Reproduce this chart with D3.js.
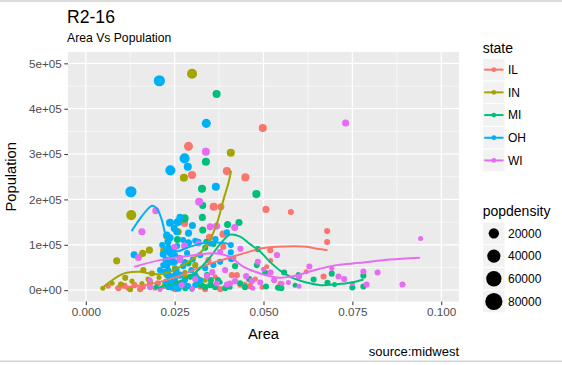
<!DOCTYPE html>
<html>
<head>
<meta charset="utf-8">
<script src="https://cdn.jsdelivr.net/npm/d3@7"></script>
<style>
  body { margin: 0; background: #fff; }
  text { font-family: 'Liberation Sans', Arial, sans-serif; }
</style>
</head>
<body>
<div id="chart"></div>
<script>
const states = ['IL', 'IN', 'MI', 'OH', 'WI']
const stateColors = ['#F8766D', '#A3A500', '#00BF7D', '#00B0F6', '#E76BF3']

const xTicks = [0, 0.025, 0.05, 0.075, 0.1]
const xTickLabels = ['0.000', '0.025', '0.050', '0.075', '0.100']
const yTicks = [0, 100000, 200000, 300000, 400000, 500000]
const yTickLabels = ['0e+00', '1e+05', '2e+05', '3e+05', '4e+05', '5e+05']
const densityBreaks = [20000, 40000, 60000, 80000]

// [area, poptotal, popdensity]
const pointsIL = [
  [0.0289, 317000, 13000], [0.0299, 253700, 8900], [0.0397, 262500, 8900], [0.0449, 248600, 8900],
  [0.0360, 183800, 8900], [0.0380, 183800, 5400], [0.0278, 147100, 5400], [0.0348, 116300, 5400],
  [0.0386, 123500, 5400], [0.0345, 66200, 2800], [0.0387, 95500, 2800], [0.0415, 69900, 2800],
  [0.0498, 357400, 8900], [0.0507, 178000, 5400], [0.0577, 172100, 2800], [0.0679, 130200, 2800],
  [0.0679, 105900, 2800], [0.0519, 88200, 2800], [0.0520, 65500, 1000], [0.0620, 40400, 1000],
  [0.0669, 30200, 2800], [0.0092, 4400, 2800], [0.0109, 9500, 2800], [0.0137, 11000, 2800],
  [0.0162, 7300, 1000], [0.0181, 11000, 1000], [0.0218, 7300, 1000], [0.0284, 11000, 1000],
  [0.0364, 29300, 1000], [0.0359, 11000, 1000], [0.0411, 33100, 2800], [0.0425, 33100, 2800],
  [0.0509, 51400, 1000], [0.0063, 8800, 1000], [0.0119, 4400, 1000], [0.0195, 4400, 1000],
  [0.0237, 6600, 1000], [0.0322, 6600, 1000], [0.0448, 13200, 1000], [0.0477, 24300, 1000],
  [0.0547, 15400, 1000], [0.0314, 28700, 1000], [0.0434, 11000, 1000], [0.0153, 2200, 2800],
  [0.0203, 15400, 2800], [0.0251, 2200, 2800], [0.0336, 2200, 2800], [0.0378, 2200, 2800],
  [0.0496, 6600, 1000], [0.0462, 8800, 2800]
]
const pointsIN = [
  [0.0299, 477100, 18500], [0.0408, 302900, 8900], [0.0276, 247700, 8900], [0.0128, 165500, 18500],
  [0.0268, 156600, 8900], [0.0260, 128600, 5400], [0.0228, 119100, 5400], [0.0087, 64600, 5400],
  [0.0160, 81000, 5400], [0.0179, 88200, 5400], [0.0218, 88200, 2800], [0.0048, 4400, 1000],
  [0.0111, 27100, 2800], [0.0099, 12600, 2800], [0.0162, 44100, 2800], [0.0186, 36800, 2800],
  [0.0158, 14800, 1000], [0.0206, 28000, 1000], [0.0228, 33100, 2800], [0.0074, 15400, 1000],
  [0.0130, 19900, 1000], [0.0175, 24300, 1000], [0.0251, 48500, 2800], [0.0279, 39700, 1000],
  [0.0308, 55100, 2800], [0.0336, 22100, 1000], [0.0125, 2200, 2800], [0.0181, 17600, 2800],
  [0.0223, 11000, 2800], [0.0280, 28700, 2800]
]
const pointsMI = [
  [0.0368, 432400, 8900], [0.0480, 211800, 8900], [0.0327, 223500, 8900], [0.0338, 283000, 8900],
  [0.0329, 186800, 5400], [0.0278, 158200, 8900], [0.0329, 132400, 5400], [0.0399, 144900, 5400],
  [0.0431, 149300, 5400], [0.0258, 111800, 5400], [0.0339, 106500, 2800], [0.0359, 101500, 2800],
  [0.0289, 58900, 2800], [0.0481, 55200, 2800], [0.0328, 160400, 5400], [0.0336, 93300, 2800],
  [0.0420, 52900, 2800], [0.0460, 24300, 2800], [0.0352, 22100, 2800], [0.0312, 25800, 2800],
  [0.0326, 11000, 2800], [0.0251, 22100, 2800], [0.0294, 29300, 2800], [0.0484, 90400, 2800],
  [0.0505, 38200, 2800], [0.0558, 39000, 2800], [0.0598, 34600, 1000], [0.0641, 23600, 2800],
  [0.0680, 16500, 2800], [0.0700, 12600, 1000], [0.0692, 36400, 2800], [0.0750, 6000, 2800],
  [0.0781, 32000, 2800], [0.0781, 8200, 2800], [0.0541, 5500, 2800], [0.0550, 4400, 2800],
  [0.0507, 8200, 2800], [0.0589, 11000, 1000], [0.0198, 7300, 1000], [0.0265, 11000, 1000],
  [0.0378, 17600, 1000], [0.0406, 6600, 1000], [0.0299, 2200, 1000], [0.0316, 13200, 2800],
  [0.0336, 6600, 2800], [0.0350, 11000, 2800], [0.0364, 6600, 2800], [0.0372, 22100, 2800],
  [0.0341, 33100, 2800], [0.0392, 4400, 2800], [0.0434, 15400, 2800], [0.0448, 6600, 2800],
  [0.0280, 4400, 2800]
]
const pointsOH = [
  [0.0207, 461700, 25000], [0.0339, 367700, 13000], [0.0278, 290500, 18500], [0.0287, 272000, 8900],
  [0.0238, 264100, 18500], [0.0366, 227900, 8900], [0.0127, 216800, 25000], [0.0237, 148500, 8900],
  [0.0259, 150000, 8900], [0.0300, 142700, 5400], [0.0289, 125700, 5400], [0.0249, 136100, 5400],
  [0.0237, 115400, 5400], [0.0289, 104300, 5400], [0.0308, 108800, 2800], [0.0365, 112500, 2800],
  [0.0408, 99300, 2800], [0.0136, 77900, 5400], [0.0218, 79400, 5400], [0.0237, 82300, 5400],
  [0.0226, 66200, 5400], [0.0301, 67700, 2800], [0.0408, 83200, 2800], [0.0265, 160400, 5400],
  [0.0256, 128600, 5400], [0.0397, 127300, 2800], [0.0317, 106500, 2800], [0.0350, 103000, 2800],
  [0.0409, 68400, 2800], [0.0378, 62400, 2800], [0.0359, 55200, 2800], [0.0232, 33100, 5400],
  [0.0228, 55200, 5400], [0.0242, 17000, 5400], [0.0243, 61800, 5400], [0.0231, 106500, 5400],
  [0.0228, 121300, 5400], [0.0265, 33100, 5400], [0.0247, 18300, 2800], [0.0232, 44100, 2800],
  [0.0251, 61800, 2800], [0.0260, 11000, 5400], [0.0279, 22100, 2800], [0.0232, 6600, 2800],
  [0.0274, 52900, 2800], [0.0251, 77200, 2800], [0.0209, 44100, 2800], [0.0308, 33100, 2800],
  [0.0336, 48500, 2800], [0.0322, 77200, 2800], [0.0285, 81600, 2800], [0.0218, 55200, 2800],
  [0.0257, 97100, 2800], [0.0274, 110300, 2800], [0.0232, 92700, 5400], [0.0243, 75000, 5400],
  [0.0223, 39700, 5400], [0.0237, 26500, 5400], [0.0254, 44100, 5400], [0.0265, 70600, 2800],
  [0.0279, 61800, 2800], [0.0297, 44100, 2800], [0.0260, 4400, 5400], [0.0243, 6600, 5400],
  [0.0271, 15400, 5400], [0.0288, 8800, 2800], [0.0226, 17600, 5400], [0.0249, 30900, 5400],
  [0.0308, 11000, 2800], [0.0322, 22100, 2800], [0.0229, 88200, 5400], [0.0215, 99300, 2800]
]
const pointsWI = [
  [0.0338, 305100, 8900], [0.0731, 368400, 5400], [0.0319, 194800, 8900], [0.0368, 141200, 5400],
  [0.0419, 138300, 5400], [0.0197, 174900, 5400], [0.0158, 128600, 5400], [0.0317, 103000, 2800],
  [0.0435, 91100, 2800], [0.0148, 72100, 5400], [0.0249, 94200, 5400], [0.0278, 97100, 5400],
  [0.0265, 66200, 2800], [0.0378, 84500, 2800], [0.0484, 62400, 2800], [0.0942, 114000, 1000],
  [0.0538, 77200, 2800], [0.0629, 52300, 2800], [0.0692, 47900, 1000], [0.0711, 30200, 2800],
  [0.0727, 24300, 2800], [0.0750, 14800, 1000], [0.0781, 41300, 2800], [0.0790, 12600, 2800],
  [0.0821, 39000, 2800], [0.0891, 12600, 2800], [0.0600, 29300, 2800], [0.0600, 8800, 1000],
  [0.0570, 17000, 1000], [0.0552, 14800, 1000], [0.0470, 4400, 1000], [0.0500, 46300, 1000],
  [0.0520, 39000, 2800], [0.0530, 22100, 2800], [0.0491, 17000, 2800], [0.0467, 19900, 2800],
  [0.0406, 14800, 2800], [0.0397, 12600, 2800], [0.0341, 30900, 2800], [0.0369, 14800, 2800],
  [0.0300, 3700, 1000], [0.0270, 11000, 2800], [0.0209, 1500, 1000], [0.0350, 139600, 5400],
  [0.0181, 22100, 1000], [0.0181, 6600, 2800], [0.0308, 24300, 2800], [0.0356, 39700, 2800],
  [0.0392, 44100, 2800], [0.0451, 30900, 2800], [0.0420, 19900, 2800]
]

// loess curves per state as [area, poptotal]
const smoothIL = [
  [0.00825, 5100], [0.0162, 11000], [0.0209, 18300], [0.0256, 29300], [0.0303, 44100],
  [0.0350, 58900], [0.0397, 69900], [0.0444, 81000], [0.0491, 91500], [0.0538, 95500],
  [0.0622, 95500], [0.0650, 91100], [0.0680, 88200]
]
const smoothIN = [
  [0.0045, 3700], [0.0068, 18300], [0.0097, 33100], [0.0115, 38200], [0.0153, 40400],
  [0.0181, 36800], [0.0209, 35300], [0.0237, 40400], [0.0265, 51400], [0.0303, 69900],
  [0.0341, 99300], [0.0369, 147100], [0.0387, 198500], [0.0401, 235400], [0.0409, 263200]
]
const smoothMI = [
  [0.0198, 4400], [0.0251, 15400], [0.0294, 30900], [0.0322, 48500], [0.0350, 72800],
  [0.0378, 101500], [0.0406, 122400], [0.0434, 118000], [0.0462, 101500], [0.0491, 84900],
  [0.0519, 61800], [0.0547, 43000], [0.0583, 26500], [0.0623, 16500], [0.0660, 11000],
  [0.0707, 13200], [0.0744, 16500], [0.0781, 23600]
]
const smoothOH = [
  [0.0129, 130200], [0.0153, 158200], [0.0172, 176500], [0.0186, 186000], [0.0200, 180200],
  [0.0214, 154400], [0.0223, 125700], [0.0232, 101500], [0.0243, 88200], [0.0260, 86000],
  [0.0279, 91500], [0.0308, 99300], [0.0350, 104800], [0.0392, 103700], [0.0412, 99300]
]
const smoothWI = [
  [0.0136, 51400], [0.0209, 66200], [0.0303, 77200], [0.0369, 81000], [0.0406, 73500],
  [0.0444, 51400], [0.0491, 36800], [0.0538, 28000], [0.0575, 29300], [0.0612, 36800],
  [0.0650, 45700], [0.0706, 55200], [0.0772, 60200], [0.0856, 67700], [0.0940, 71700]
]

const pointsByState = [pointsIL, pointsIN, pointsMI, pointsOH, pointsWI]
const smoothByState = [smoothIL, smoothIN, smoothMI, smoothOH, smoothWI]

const margin = { top: 52, left: 68, right: 103, bottom: 63.5 }
const width = 562 - margin.left - margin.right
const height = 365 - margin.top - margin.bottom

const root = d3
  .select('#chart')
  .append('svg')
  .attr('width', 562)
  .attr('height', 365)

// screenshot frame lines
root.append('rect').attr('x', 0).attr('y', 0).attr('width', 562).attr('height', 2).attr('fill', '#dcdcdc')
root.append('rect').attr('x', 0).attr('y', 360.5).attr('width', 562).attr('height', 1.5).attr('fill', '#d4d4d4')

const svg = root.append('g')
  .attr('transform', 'translate(' + margin.left + ',' + margin.top + ')')

const x = d3.scaleLinear().domain([-0.005, 0.105]).range([0, width])
const y = d3.scaleLinear().domain([-25000, 525000]).range([height, 0])
const color = d3.scaleOrdinal().domain(states).range(stateColors)
// ggplot style area scale: diameter grows with sqrt of rescaled density
const densNorm = d3.scaleLinear().domain([85, 88018]).clamp(true)
const diam = d3.scaleLinear().domain([0, 1]).range([3.6, 17.8])
const radius = d => diam(Math.sqrt(densNorm(d))) / 2

svg.append('rect')
  .attr('width', width)
  .attr('height', height)
  .attr('fill', '#EBEBEB')

svg.append('clipPath').attr('id', 'panel')
  .append('rect').attr('width', width).attr('height', height)

// minor grid
const xMinor = xTicks.slice(0, -1).map((d, i) => (d + xTicks[i + 1]) / 2)
const yMinor = yTicks.slice(0, -1).map((d, i) => (d + yTicks[i + 1]) / 2)
svg.selectAll('.xminor').data(xMinor).enter().append('line')
  .attr('x1', d => x(d)).attr('x2', d => x(d)).attr('y1', 0).attr('y2', height)
  .attr('stroke', '#fff').attr('stroke-width', 0.6)
svg.selectAll('.yminor').data(yMinor).enter().append('line')
  .attr('y1', d => y(d)).attr('y2', d => y(d)).attr('x1', 0).attr('x2', width)
  .attr('stroke', '#fff').attr('stroke-width', 0.6)
// major grid
svg.selectAll('.xmajor').data(xTicks).enter().append('line')
  .attr('x1', d => x(d)).attr('x2', d => x(d)).attr('y1', 0).attr('y2', height)
  .attr('stroke', '#fff').attr('stroke-width', 1.2)
svg.selectAll('.ymajor').data(yTicks).enter().append('line')
  .attr('y1', d => y(d)).attr('y2', d => y(d)).attr('x1', 0).attr('x2', width)
  .attr('stroke', '#fff').attr('stroke-width', 1.2)

const plot = svg.append('g').attr('clip-path', 'url(#panel)')

states.forEach(function(s, i) {
  plot.append('g')
    .selectAll('circle')
    .data(pointsByState[i])
    .enter()
    .append('circle')
    .attr('cx', d => x(d[0]))
    .attr('cy', d => y(d[1]))
    .attr('r', d => radius(d[2]))
    .attr('fill', color(s))
})

const line = d3.line()
  .x(d => x(d[0]))
  .y(d => y(d[1]))
  .curve(d3.curveCatmullRom)

states.forEach(function(s, i) {
  plot.append('path')
    .datum(smoothByState[i])
    .attr('d', line)
    .attr('fill', 'none')
    .attr('stroke', color(s))
    .attr('stroke-width', 2)
})

// axes
const xAxis = svg.append('g')
  .attr('transform', 'translate(0,' + height + ')')
  .call(d3.axisBottom(x).tickValues(xTicks).tickFormat((d, i) => xTickLabels[i]).tickSize(3.7).tickPadding(2.5))
const yAxis = svg.append('g')
  .call(d3.axisLeft(y).tickValues(yTicks).tickFormat((d, i) => yTickLabels[i]).tickSize(3.7).tickPadding(2.5))
;[xAxis, yAxis].forEach(function(ax) {
  ax.select('.domain').remove()
  ax.selectAll('line').attr('stroke', '#333333')
  ax.selectAll('text')
    .attr('fill', '#4D4D4D')
    .style('font-size', '11.7px')
    .style('font-family', "'Liberation Sans', Arial, sans-serif")
})

svg.append('text')
  .text('Area')
  .attr('x', width / 2)
  .attr('y', height + 37.5)
  .attr('text-anchor', 'middle')
  .attr('font-size', 14.7)

svg.append('text')
  .text('Population')
  .attr('transform', 'translate(' + (-52.5) + ',' + (height / 2) + ') rotate(-90)')
  .attr('text-anchor', 'middle')
  .attr('font-size', 14.7)

root.append('text')
  .text('R2-16')
  .attr('x', 67)
  .attr('y', 22.7)
  .attr('font-size', 17.6)

root.append('text')
  .text('Area Vs Population')
  .attr('x', 67)
  .attr('y', 42.3)
  .attr('font-size', 12.2)

root.append('text')
  .text('source:midwest')
  .attr('x', margin.left + width)
  .attr('y', 355.7)
  .attr('text-anchor', 'end')
  .attr('font-size', 13)

// legends
const legX = 482.7
const keyW = 22.3
const keyH = 22.7

root.append('text').text('state').attr('x', legX).attr('y', 53).attr('font-size', 14)
const stateLeg = root.append('g').attr('transform', 'translate(' + legX + ',58.3)')
states.forEach(function(s, i) {
  const g = stateLeg.append('g').attr('transform', 'translate(0,' + (i * keyH) + ')')
  g.append('rect').attr('width', keyW).attr('height', keyH)
    .attr('fill', '#F2F2F2').attr('stroke', '#fff').attr('stroke-width', 1)
  g.append('line').attr('x1', 1.5).attr('x2', keyW - 1.5)
    .attr('y1', keyH / 2).attr('y2', keyH / 2)
    .attr('stroke', color(s)).attr('stroke-width', 2)
  g.append('circle').attr('cx', keyW / 2).attr('cy', keyH / 2).attr('r', 2.4).attr('fill', color(s))
  g.append('text').text(s).attr('x', keyW + 3).attr('y', keyH / 2 + 4.2).attr('font-size', 12)
})

root.append('text').text('popdensity').attr('x', legX).attr('y', 216).attr('font-size', 14)
const sizeLeg = root.append('g').attr('transform', 'translate(' + legX + ',222)')
densityBreaks.forEach(function(b, i) {
  const g = sizeLeg.append('g').attr('transform', 'translate(0,' + (i * keyH) + ')')
  g.append('rect').attr('width', keyW).attr('height', keyH)
    .attr('fill', '#F2F2F2').attr('stroke', '#fff').attr('stroke-width', 1)
  g.append('circle').attr('cx', keyW / 2).attr('cy', keyH / 2).attr('r', radius(b)).attr('fill', '#000')
  g.append('text').text(b).attr('x', keyW + 3).attr('y', keyH / 2 + 4.2).attr('font-size', 12)
})
</script>
</body>
</html>
